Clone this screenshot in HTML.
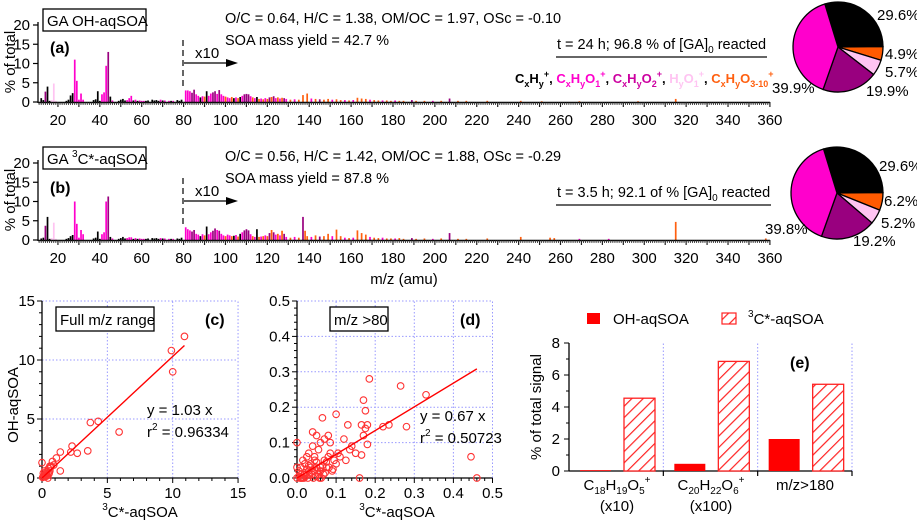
<!DOCTYPE html>
<html><head><meta charset="utf-8">
<style>
html,body{margin:0;padding:0;background:#fff;}
svg{display:block;font-family:"Liberation Sans",Arial,sans-serif;}
</style></head>
<body>
<svg id="fig" width="917" height="524" viewBox="0 0 917 524" xmlns="http://www.w3.org/2000/svg">
<defs>
<pattern id="hatch" patternUnits="userSpaceOnUse" width="8" height="8" patternTransform="rotate(45)">
<rect width="8" height="8" fill="#fff"/>
<line x1="0" y1="0" x2="0" y2="8" stroke="#f22" stroke-width="2.4"/>
</pattern>
</defs>
<g id="root"></g>
</svg>
<script>
// ---------- Spectrum (a) data ----------
const mzA=[12,13,14,15,16,17,18,19,24,25, 26,27,28,29,30,31,32,37,38,39, 40,41,42,43,44,45,46,49,50,51, 52,53,54,55,56,57,58,59,60,61, 62,63,65,66,67,68,69,70,71,73, 74,75,77,78,79,81,82,83,84,85, 86,87,88,89,90,91,92,93,94,95, 96,97,98,99,100,101,102,103,104,105, 106,107,108,109,110,111,112,113,114,115, 116,117,118,119,120,121,122,123,124,125, 126,127,128,129,131,133,135,137,139,141, 143,145,147,149,151,153,155,157,159,161, 163,165,167,169,171,173,175,177,179,181, 183,185,189,191,195,199,203,207,211,215, 225,241,251,269,297,315];
const valA=[1.0,0.5,2.7,4.0,0.3,0.5,4.8,0.3,0.3,0.6, 1.7,2.3,11.0,5.5,0.6,2.2,0.6,0.5,0.7,2.8, 0.3,2.0,2.5,9.4,13.0,1.4,0.4,0.3,0.6,0.8, 0.4,0.5,1.0,1.6,0.4,0.6,0.3,0.4,0.3,0.3, 0.3,0.4,0.6,0.4,0.5,0.3,0.6,0.4,0.4,0.3, 0.3,0.3,0.5,0.3,0.6,3.0,3.0,2.8,2.4,3.2, 2.0,1.6,1.2,1.5,1.4,2.8,1.6,2.2,2.5,2.8, 2.1,3.1,2.0,1.6,1.4,1.2,1.0,1.3,1.0,1.2, 1.0,1.3,1.6,2.0,2.1,2.0,1.5,1.2,1.0,1.3, 0.8,0.9,0.7,1.0,0.8,1.2,1.3,1.5,1.0,1.2, 0.9,1.1,1.0,0.8,0.6,0.7,0.6,1.8,2.2,0.9, 0.8,0.7,0.6,0.8,0.6,0.7,0.5,0.5,0.4,0.5, 1.1,0.9,0.8,0.6,0.5,0.4,0.4,0.4,0.3,0.4, 0.3,0.3,0.5,0.3,0.3,0.3,0.3,0.9,0.3,0.3, 0.3,0.3,0.2,0.2,0.2,0.8];
const colA=["k","k","p","k","k","l","l","l","k","k", "k","k","m","m","m","m","m","k","k","k", "k","m","m","m","p","k","m","k","k","k", "k","m","m","m","k","m","k","m","m","m", "k","k","k","k","k","k","m","k","m","m", "k","m","k","k","k","m","m","m","p","p", "m","m","k","m","o","k","m","m","p","p", "m","p","m","m","o","m","m","o","k","m", "o","k","m","p","p","p","m","o","m","k", "o","m","o","m","o","p","o","p","m","o", "m","o","p","m","o","m","o","o","o","m", "o","p","o","o","m","o","o","m","o","m", "o","o","o","m","o","o","m","o","o","m", "o","o","p","o","o","m","o","p","o","o", "o","o","o","o","o","o"];
// ---------- Spectrum (b) data ----------
const mzB=[12,13,14,15,16,17,18,19,24,25, 26,27,28,29,30,31,32,37,38,39, 40,41,42,43,44,45,46,49,50,51, 52,53,54,55,56,57,58,59,60,61, 62,63,65,66,67,68,69,70,71,73, 74,75,77,78,79,81,82,83,84,85, 86,87,88,89,90,91,92,93,94,95, 96,97,98,99,100,101,102,103,104,105, 106,107,108,109,110,111,112,113,114,115, 116,117,118,119,120,121,122,123,124,125, 126,127,128,129,131,133,135,137,138,139, 141,143,145,147,149,151,153,155,157,159, 161,163,165,167,169,171,173,175,177,179, 181,183,185,189,191,195,199,203,207,211, 215,225,241,255,257,269,283,315,358];
const valB=[0.4,0.6,3.7,6.0,0.3,0.5,4.5,0.3,0.3,0.5, 1.0,1.3,10.0,4.2,0.6,2.6,1.5,0.4,0.6,2.2, 0.3,1.5,2.0,10.0,11.3,0.8,0.4,0.3,0.5,0.8, 0.4,0.5,0.7,0.7,0.3,0.5,0.3,0.4,0.3,0.3, 0.3,0.4,0.5,0.4,0.5,0.3,0.5,0.4,0.4,0.3, 0.3,0.3,0.4,0.3,0.6,3.3,2.8,2.5,2.2,2.6, 1.6,1.4,1.0,1.5,1.2,3.5,1.5,2.0,2.4,3.0, 2.6,2.4,1.6,1.2,1.0,1.4,1.2,1.0,1.1,1.3, 0.9,1.6,2.0,2.5,2.8,2.5,1.5,1.0,0.8,2.8, 0.8,0.9,1.0,1.2,1.0,1.8,2.6,2.0,1.4,1.6, 1.2,2.4,1.6,0.8,0.6,0.8,0.6,6.0,2.4,1.0, 0.8,1.2,0.9,1.0,1.6,1.0,2.7,1.0,0.6,0.5, 0.6,2.5,1.8,1.4,0.8,0.6,0.5,0.6,0.4,0.4, 0.4,0.5,0.3,0.5,0.3,0.4,0.3,0.4,1.8,0.3, 0.3,0.4,0.8,0.6,0.5,0.3,0.3,4.7,0.4];
const colB=["k","k","p","k","k","l","l","l","k","k", "k","k","m","m","m","m","m","k","k","k", "k","m","m","m","p","k","m","k","k","k", "k","m","m","m","k","m","k","m","m","m", "k","k","k","k","k","k","m","k","m","m", "k","m","k","k","k","m","m","m","p","p", "m","m","k","m","o","k","m","m","p","p", "m","p","m","m","o","m","m","o","k","m", "o","k","m","p","p","p","m","o","m","k", "o","m","o","m","o","p","o","p","m","o", "m","o","p","m","o","m","o","p","o","o", "m","o","p","o","o","m","o","o","m","o", "m","o","o","o","m","o","o","m","o","o", "m","o","o","p","o","o","m","o","p","o", "o","o","o","o","o","m","m","o","o"];
// ---------- Pie data ----------
const pieLabels=["CxHy","CxHyO1","CxHyO2","HyO1","CxHyO3-10"];
const pieA=[29.6,4.9,5.7,19.9,39.9];
const pieB=[29.6,6.2,5.2,19.2,39.8];
// ---------- Scatter (c) data ----------
const cX=[0.0,0.05,0.1,0.15,0.2,0.25,0.3,0.35,0.4,0.45,0.5,0.55,0.6,0.65,0.7,0.8,0.9,1.1,1.4,1.4,2.2,2.3,2.7,3.5,3.7,4.3,5.9,9.9,10.0,10.9,0.1,0.2,0.3,0.5,0.6];
const cY=[1.3,0.05,0.1,0.2,0.3,0.1,0.5,0.35,0.2,0.0,0.8,0.4,0.6,0.9,1.0,1.4,1.1,1.7,2.2,0.6,2.2,2.7,2.1,2.3,4.7,4.8,3.9,10.8,9.0,12.0,0.4,0.6,0.2,0.3,1.0];
const cFit=1.03;
// ---------- Scatter (d) data ----------
const dX=[0.0,0.0,0.005,0.01,0.01,0.015,0.02,0.02,0.025,0.03,0.03,0.035,0.04,0.04,0.045,0.05,0.05,0.055,0.06,0.06,0.065,0.07,0.07,0.075,0.08,0.08,0.085,0.09,0.1,0.1,0.105,0.11,0.12,0.125,0.13,0.135,0.14,0.15,0.16,0.165,0.165,0.17,0.17,0.175,0.175,0.18,0.18,0.185,0.22,0.235,0.265,0.28,0.33,0.445,0.46,0.01,0.02,0.03,0.04,0.05,0.06,0.015,0.025,0.035,0.045,0.055,0.065,0.075,0.085,0.095,0.005,0.012,0.022,0.032,0.042,0.052,0.062,0.072,0.082,0.092,0.0,0.008,0.018,0.028,0.038,0.048,0.058,0.068];
const dY=[0.1,0.0,0.02,0.03,0.0,0.05,0.04,0.01,0.06,0.02,0.07,0.03,0.13,0.09,0.05,0.12,0.03,0.08,0.1,0.02,0.17,0.05,0.11,0.03,0.12,0.06,0.1,0.02,0.18,0.04,0.07,0.06,0.11,0.05,0.15,0.08,0.09,0.07,0.0,0.065,0.15,0.22,0.12,0.19,0.14,0.15,0.095,0.28,0.145,0.15,0.26,0.145,0.235,0.06,0.0,0.01,0.015,0.035,0.02,0.045,0.03,0.0,0.025,0.04,0.06,0.01,0.035,0.045,0.07,0.05,0.005,0.0,0.005,0.01,0.0,0.02,0.0,0.015,0.03,0.025,0.03,0.0,0.0,0.0,0.01,0.005,0.0,0.01];
const dFit=0.67;
// ---------- Bar (e) data ----------
const eCats=["C18H19O5+ (x10)","C20H22O6+ (x100)","m/z>180"];
const eOH=[0.05,0.45,2.0];
const e3C=[4.55,6.85,5.42];
const eTicks=[0,2,4,6,8];

const NS="http://www.w3.org/2000/svg";
const root=document.getElementById('root');
function mk(tag,attrs,parent,text){const e=document.createElementNS(NS,tag);for(const k in attrs)e.setAttribute(k,attrs[k]);if(text!==undefined)e.textContent=text;(parent||root).appendChild(e);return e;}
const COL={k:"#000",m:"#ff00cc",p:"#99007f",l:"#ffc4f2",o:"#ff6010"};

// ===== spectra =====
function xs(m){return 37+(m-10)*2.094;}
function drawSpec(y0,mz,vals,cols,nm){
  const g=mk('g',{});
  
  
  const ys=v=>y0-v*3.85;
  for(let i=0;i<mz.length;i++){
    const r=mk('rect',{x:xs(mz[i])-0.8,y:ys(vals[i]),width:1.7,height:y0-ys(vals[i]),fill:COL[cols[i]]},g);
    
    
  }
  mk('line',{x1:38,y1:y0-80,x2:38,y2:y0+1,stroke:'#000','stroke-width':1.3},g);
  [0,5,10,15,20].forEach(t=>{mk('line',{x1:33,y1:ys(t),x2:38,y2:ys(t),stroke:'#000','stroke-width':1.2},g);
    const tx=mk('text',{x:30,y:ys(t)+5,'text-anchor':'end','font-size':15},g,t);
    
    });
  mk('line',{x1:38,y1:y0+0.5,x2:770,y2:y0+0.5,stroke:'#000','stroke-width':1.5},g);
  for(let m=11;m<=360;m++){const big=m%10===0;mk('line',{x1:xs(m),y1:y0,x2:xs(m),y2:y0+(big?5:3),stroke:'#222','stroke-width':big?1.2:0.8},g);}
  for(let m=20;m<=360;m+=20){const t=mk('text',{x:xs(m),y:y0+23,'text-anchor':'middle','font-size':15},g,m);
    
    }
  mk('line',{x1:183,y1:y0-62,x2:183,y2:y0-12,stroke:'#000','stroke-width':1.2,'stroke-dasharray':'6,4'},g);
  mk('line',{x1:184,y1:y0-39,x2:228,y2:y0-39,stroke:'#000','stroke-width':1.2},g);
  mk('polygon',{points:`226,${y0-43} 238,${y0-39} 226,${y0-35}`,fill:'#000'},g);
  mk('text',{x:195,y:y0-44,'font-size':15},g,'x10');
  const yl=mk('text',{x:0,y:0,'font-size':15,'text-anchor':'middle',transform:`translate(15,${y0-40}) rotate(-90)`},g,'% of total');
  
  
}
drawSpec(102,mzA,valA,colA,'spectrum-a');
drawSpec(240,mzB,valB,colB,'spectrum-b');
</script>
<script>
// static annotations
(function(){
const a=(tag,at,txt,name)=>{const e=mk(tag,at,undefined,txt);if(name){}return e;};
a('rect',{x:43,y:9,width:103,height:22,fill:'#fff',stroke:'#000','stroke-width':1.3},undefined,'title-box-a');
a('text',{x:47,y:26,'font-size':15},'GA OH-aqSOA','title-a');
a('text',{x:225,y:23,'font-size':14.5},'O/C = 0.64, H/C = 1.38, OM/OC = 1.97, OSc = -0.10','ratios-a');
a('text',{x:225,y:45,'font-size':14.5},'SOA mass yield = 42.7 %','yield-a');
a('text',{x:50,y:53,'font-size':16,'font-weight':'bold'},'(a)','label-a');
const t1=a('text',{x:557,y:49,'font-size':14.5},'t = 24 h; 96.8 % of [GA]','time-a');
mk('tspan',{'font-size':10,dy:4},t1,'0');mk('tspan',{dy:-4},t1,' reacted');
a('line',{x1:556,y1:57,x2:767,y2:57,stroke:'#333','stroke-width':1.5},undefined,'rule-a');
const lg=a('text',{x:515,y:83,'font-size':13,'font-weight':'bold'},undefined,'class-legend');
const parts=[["C",'#000'],["x",'#000',1],["H",'#000'],["y",'#000',1],["+",'#000',2],[", ",'#000'],
["C",'#ff00cc'],["x",'#ff00cc',1],["H",'#ff00cc'],["y",'#ff00cc',1],["O",'#ff00cc'],["1",'#ff00cc',1],["+",'#ff00cc',2],[", ",'#000'],
["C",'#cc00a0'],["x",'#cc00a0',1],["H",'#cc00a0'],["y",'#cc00a0',1],["O",'#cc00a0'],["2",'#cc00a0',1],["+",'#cc00a0',2],[", ",'#000'],
["H",'#ffc4f2'],["y",'#ffc4f2',1],["O",'#ffc4f2'],["1",'#ffc4f2',1],["+",'#ffc4f2',2],[", ",'#000'],
["C",'#ff6010'],["x",'#ff6010',1],["H",'#ff6010'],["y",'#ff6010',1],["O",'#ff6010'],["3-10",'#ff6010',1],["+",'#ff6010',2]];
let off=0;
parts.forEach(p=>{let dy=0,fs=13;if(p[2]===1){dy=4;fs=9;}else if(p[2]===2){dy=-6;fs=9;}
 mk('tspan',{fill:p[1],dy:dy-off,'font-size':fs},lg,p[0]);off=dy;});
a('rect',{x:43,y:147,width:103,height:22,fill:'#fff',stroke:'#000','stroke-width':1.3},undefined,'title-box-b');
const tb=a('text',{x:47,y:164,'font-size':15},'GA ','title-b');
mk('tspan',{'font-size':10,dy:-7},tb,'3');mk('tspan',{dy:7},tb,'C*-aqSOA');
a('text',{x:225,y:161,'font-size':14.5},'O/C = 0.56, H/C = 1.42, OM/OC = 1.88, OSc = -0.29','ratios-b');
a('text',{x:225,y:183,'font-size':14.5},'SOA mass yield = 87.8 %','yield-b');
a('text',{x:50,y:193,'font-size':16,'font-weight':'bold'},'(b)','label-b');
const t2=a('text',{x:557,y:197,'font-size':14.5},'t = 3.5 h; 92.1 of % [GA]','time-b');
mk('tspan',{'font-size':10,dy:4},t2,'0');mk('tspan',{dy:-4},t2,' reacted');
a('line',{x1:556,y1:205,x2:771,y2:205,stroke:'#333','stroke-width':1.5},undefined,'rule-b');
a('text',{x:404,y:284,'font-size':15,'text-anchor':'middle'},'m/z (amu)','x-axis-title-spectra');
})();

// ===== pies =====
const pieCols=['#000','#ff5a00','#ffc4f2','#99007f','#ff00cc'];
function drawPie(cx,cy,r,vals,labelPos,nm){
  const g=mk('g',{});
  
  
  const tot=vals.reduce((s,v)=>s+v,0);
  let ang=-17*Math.PI/180;
  vals.forEach((v,i)=>{
    const a2=ang+v/tot*2*Math.PI;
    const x1=cx+r*Math.sin(ang),y1=cy-r*Math.cos(ang),x2=cx+r*Math.sin(a2),y2=cy-r*Math.cos(a2);
    const large=(a2-ang)>Math.PI?1:0;
    const p=mk('path',{d:`M${cx},${cy} L${x1},${y1} A${r},${r} 0 ${large} 1 ${x2},${y2} Z`,fill:pieCols[i],stroke:'#000','stroke-width':1.3},g);
    
    
    const lp=labelPos[i];
    const t=mk('text',{x:lp[0],y:lp[1],'font-size':15,'text-anchor':lp[2]||'start'},g,v.toFixed(1)+'%');
    
    
    ang=a2;
  });
}
drawPie(838,47,45,pieA,[[877,20],[885,59],[885,77],[866,96],[772,93]],'pie-a');
drawPie(837,193,46,pieB,[[879,171],[884,206],[881,228],[853,246],[765,234]],'pie-b');

// ===== scatter c =====
(function(){
  const g=mk('g',{});
  
  
  const X=v=>42+v*13.07, Y=v=>478-v*11.8;
  [5,10,15].forEach(t=>{mk('line',{x1:X(t),y1:Y(0),x2:X(t),y2:Y(15),stroke:'#99f','stroke-width':1,'stroke-dasharray':'1.5,2'},g);
    mk('line',{x1:X(0),y1:Y(t),x2:X(15),y2:Y(t),stroke:'#99f','stroke-width':1,'stroke-dasharray':'1.5,2'},g);});
  mk('line',{x1:X(0),y1:Y(0),x2:X(15),y2:Y(0),stroke:'#000','stroke-width':1.3},g);
  mk('line',{x1:X(0),y1:Y(0),x2:X(0),y2:Y(15),stroke:'#000','stroke-width':1.3},g);
  for(let t=0;t<=15;t++){const b=t%5===0;
    mk('line',{x1:X(t),y1:Y(0),x2:X(t),y2:Y(0)+(b?5:3),stroke:'#000'},g);
    mk('line',{x1:X(0),y1:Y(t),x2:X(0)-(b?5:3),y2:Y(t),stroke:'#000'},g);
    if(b){mk('text',{x:X(t),y:Y(0)+20,'font-size':15,'text-anchor':'middle'},g,t);
      mk('text',{x:X(0)-7,y:Y(t)+5,'font-size':15,'text-anchor':'end'},g,t);}}
  for(let i=0;i<cX.length;i++){const c=mk('circle',{cx:X(cX[i]),cy:Y(cY[i]),r:3.3,fill:'none',stroke:'#f33','stroke-width':1.1},g);
    
    }
  mk('line',{x1:X(0),y1:Y(0),x2:X(10.9),y2:Y(10.9*cFit),stroke:'#f00','stroke-width':1.4},g);
  mk('rect',{x:56,y:307,width:98,height:24,fill:'#fff',stroke:'#000','stroke-width':1.3},g);
  mk('text',{x:60,y:325,'font-size':15},g,'Full m/z range');
  mk('text',{x:205,y:325,'font-size':16,'font-weight':'bold'},g,'(c)');
  mk('text',{x:147,y:415,'font-size':15},g,'y = '+cFit.toFixed(2)+' x');
  const r=mk('text',{x:147,y:437,'font-size':15},g,'r');mk('tspan',{'font-size':10,dy:-7},r,'2');mk('tspan',{dy:7},r,' = 0.96334');
  const yt=mk('text',{x:0,y:0,'font-size':15,'text-anchor':'middle',transform:'translate(18,405) rotate(-90)'},g,'OH-aqSOA');
  
  
  const xt=mk('text',{x:140,y:517,'font-size':15,'text-anchor':'middle'},g);
  mk('tspan',{'font-size':10,dy:-7},xt,'3');mk('tspan',{dy:7},xt,'C*-aqSOA');
})();

// ===== scatter d =====
(function(){
  const g=mk('g',{});
  
  
  const X=v=>297+v*391, Y=v=>478-v*354;
  [0.1,0.2,0.3,0.4,0.5].forEach(t=>{mk('line',{x1:X(t),y1:Y(0),x2:X(t),y2:Y(0.5),stroke:'#99f','stroke-width':1,'stroke-dasharray':'1.5,2'},g);
    mk('line',{x1:X(0),y1:Y(t),x2:X(0.5),y2:Y(t),stroke:'#99f','stroke-width':1,'stroke-dasharray':'1.5,2'},g);});
  mk('line',{x1:X(0),y1:Y(0),x2:X(0.5),y2:Y(0),stroke:'#000','stroke-width':1.3},g);
  mk('line',{x1:X(0),y1:Y(0),x2:X(0),y2:Y(0.5),stroke:'#000','stroke-width':1.3},g);
  for(let k=0;k<=25;k++){const t=k*0.02,b=k%5===0;
    mk('line',{x1:X(t),y1:Y(0),x2:X(t),y2:Y(0)+(b?5:3),stroke:'#000'},g);
    mk('line',{x1:X(0),y1:Y(t),x2:X(0)-(b?5:3),y2:Y(t),stroke:'#000'},g);
    if(b){mk('text',{x:X(t),y:Y(0)+20,'font-size':15,'text-anchor':'middle'},g,t.toFixed(1));
      mk('text',{x:X(0)-7,y:Y(t)+5,'font-size':15,'text-anchor':'end'},g,t.toFixed(1));}}
  for(let i=0;i<dX.length;i++){const c=mk('circle',{cx:X(dX[i]),cy:Y(dY[i]),r:3.3,fill:'none',stroke:'#f33','stroke-width':1.1},g);
    
    }
  mk('line',{x1:X(0),y1:Y(0),x2:X(0.46),y2:Y(0.46*dFit),stroke:'#f00','stroke-width':1.4},g);
  mk('rect',{x:330,y:307,width:58,height:24,fill:'#fff',stroke:'#000','stroke-width':1.3},g);
  mk('text',{x:334,y:325,'font-size':15},g,'m/z >80');
  mk('text',{x:460,y:325,'font-size':16,'font-weight':'bold'},g,'(d)');
  mk('text',{x:420,y:421,'font-size':15},g,'y = '+dFit.toFixed(2)+' x');
  const r=mk('text',{x:420,y:443,'font-size':15},g,'r');mk('tspan',{'font-size':10,dy:-7},r,'2');mk('tspan',{dy:7},r,' = 0.50723');
  const xt=mk('text',{x:397,y:517,'font-size':15,'text-anchor':'middle'},g);
  mk('tspan',{'font-size':10,dy:-7},xt,'3');mk('tspan',{dy:7},xt,'C*-aqSOA');
})();

// ===== bar e =====
(function(){
  const g=mk('g',{});
  
  
  const x0=569,x1=852,Y=v=>471-v*16;
  const gw=(x1-x0)/eCats.length;
  for(let i=1;i<=eCats.length;i++){mk('line',{x1:x0+i*gw,y1:Y(0),x2:x0+i*gw,y2:Y(8),stroke:'#99f','stroke-dasharray':'1.5,2'},g);
    mk('line',{x1:x0+i*gw,y1:Y(0),x2:x0+i*gw,y2:Y(0)+5,stroke:'#000','stroke-width':1.2},g);}
  mk('line',{x1:x0,y1:Y(0),x2:x1,y2:Y(0),stroke:'#000','stroke-width':1.3},g);
  mk('line',{x1:x0,y1:Y(0),x2:x0,y2:Y(8),stroke:'#000','stroke-width':1.3},g);
  eTicks.forEach(t=>{mk('line',{x1:x0-5,y1:Y(t),x2:x0,y2:Y(t),stroke:'#000'},g);
    if(t<8)mk('line',{x1:x0-3,y1:Y(t+1),x2:x0,y2:Y(t+1),stroke:'#000'},g);
    mk('text',{x:x0-9,y:Y(t)+5,'font-size':15,'text-anchor':'end'},g,t);});
  for(let i=0;i<eCats.length;i++){
    const gx=x0+i*gw;
    const b1=mk('rect',{x:gx+11,y:Y(eOH[i]),width:31,height:Y(0)-Y(eOH[i]),fill:'#f00'},g);
    
    
    const b2=mk('rect',{x:gx+55,y:Y(e3C[i]),width:31,height:Y(0)-Y(e3C[i]),fill:'url(#hatch)',stroke:'#f22','stroke-width':1.3},g);
    
    
  }
  const cx=[617,711,805];
  const l1=mk('text',{x:cx[0],y:490,'font-size':15,'text-anchor':'middle'},g,'C');
  mk('tspan',{'font-size':10,dy:4},l1,'18');mk('tspan',{dy:-4},l1,'H');mk('tspan',{'font-size':10,dy:4},l1,'19');mk('tspan',{dy:-4},l1,'O');mk('tspan',{'font-size':10,dy:4},l1,'5');mk('tspan',{'font-size':10,dy:-11},l1,'+');
  mk('text',{x:cx[0],y:511,'font-size':15,'text-anchor':'middle'},g,'(x10)');
  const l2=mk('text',{x:cx[1],y:490,'font-size':15,'text-anchor':'middle'},g,'C');
  mk('tspan',{'font-size':10,dy:4},l2,'20');mk('tspan',{dy:-4},l2,'H');mk('tspan',{'font-size':10,dy:4},l2,'22');mk('tspan',{dy:-4},l2,'O');mk('tspan',{'font-size':10,dy:4},l2,'6');mk('tspan',{'font-size':10,dy:-11},l2,'+');
  mk('text',{x:cx[1],y:511,'font-size':15,'text-anchor':'middle'},g,'(x100)');
  mk('text',{x:cx[2],y:490,'font-size':15,'text-anchor':'middle'},g,'m/z>180');
  mk('text',{x:790,y:368,'font-size':16,'font-weight':'bold'},g,'(e)');
  const yt=mk('text',{x:0,y:0,'font-size':15,'text-anchor':'middle',transform:'translate(541,407) rotate(-90)'},g,'% of total signal');
  
  
  const lr=mk('rect',{x:587,y:313,width:13,height:11,fill:'#f00'},g);
  
  
  mk('text',{x:613,y:324,'font-size':15},g,'OH-aqSOA');
  const lh=mk('rect',{x:722,y:313,width:14,height:11,fill:'url(#hatch)',stroke:'#f22','stroke-width':1.2},g);
  
  
  const lt=mk('text',{x:748,y:324,'font-size':15},g);
  mk('tspan',{'font-size':10,dy:-7},lt,'3');mk('tspan',{dy:7},lt,'C*-aqSOA');
})();
</script>
</body></html>
